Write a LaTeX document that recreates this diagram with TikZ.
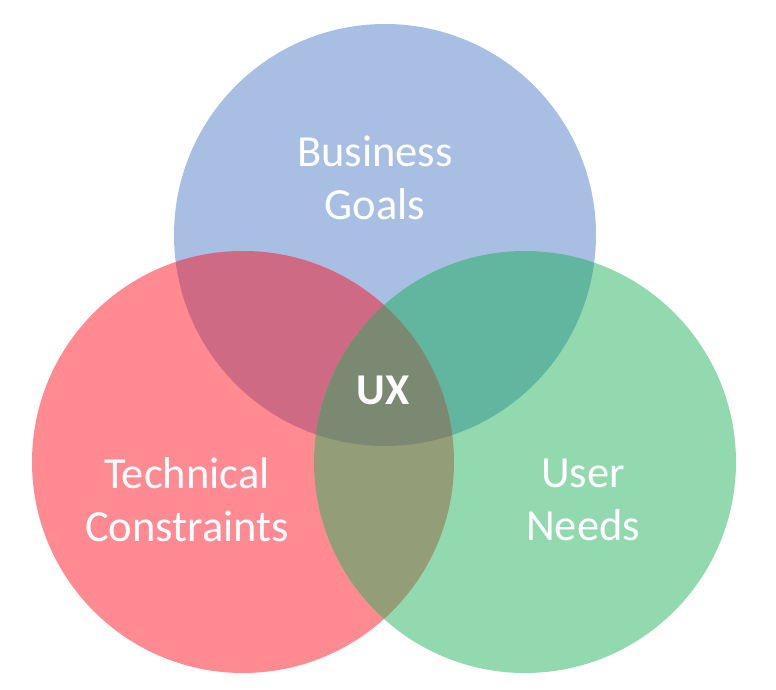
\documentclass[tikz,border=0pt]{standalone}
\usepackage{fontspec}
\setmainfont{Carlito}
\usepackage{tikz}
\definecolor{bizblue}{RGB}{169,190,227}
\definecolor{techred}{RGB}{255,138,145}
\definecolor{userteal}{RGB}{147,217,175}
\definecolor{redblue}{RGB}{206,106,132}
\definecolor{bluegreen}{RGB}{98,182,160}
\definecolor{redgreen}{RGB}{147,158,120}
\definecolor{coremix}{RGB}{124,137,114}

\begin{document}
\begin{tikzpicture}[
    x=1pt, y=-1pt,
    vennlabel/.style={text=white, align=center, font=\fontsize{44.5}{53}\selectfont},
    corelabel/.style={vennlabel, font=\fontsize{44}{50}\selectfont\bfseries}
]
\useasboundingbox (0,0) rectangle (776,690);

\coordinate (biz) at (385,235);
\coordinate (tech) at (243,462);
\coordinate (user) at (525,462);
\def\rad{211}

% single sets
\fill[bizblue] (biz) circle[radius=\rad];
\fill[techred] (tech) circle[radius=\rad];
\fill[userteal] (user) circle[radius=\rad];

% pairwise overlaps
\begin{scope}
    \clip (biz) circle[radius=\rad];
    \fill[redblue] (tech) circle[radius=\rad];
    \fill[bluegreen] (user) circle[radius=\rad];
\end{scope}
\begin{scope}
    \clip (tech) circle[radius=\rad];
    \fill[redgreen] (user) circle[radius=\rad];
\end{scope}

% all three
\begin{scope}
    \clip (biz) circle[radius=\rad];
    \clip (tech) circle[radius=\rad];
    \fill[coremix] (user) circle[radius=\rad];
\end{scope}

\node[vennlabel] (goals) at (375,178) {Business\\Goals};
\node[vennlabel] (constraints) at (187,500) {Technical\\Constraints};
\node[vennlabel] (needs) at (583,500) {User\\Needs};
\node[corelabel] (ux) at (383,390) {UX};

\end{tikzpicture}
\end{document}
